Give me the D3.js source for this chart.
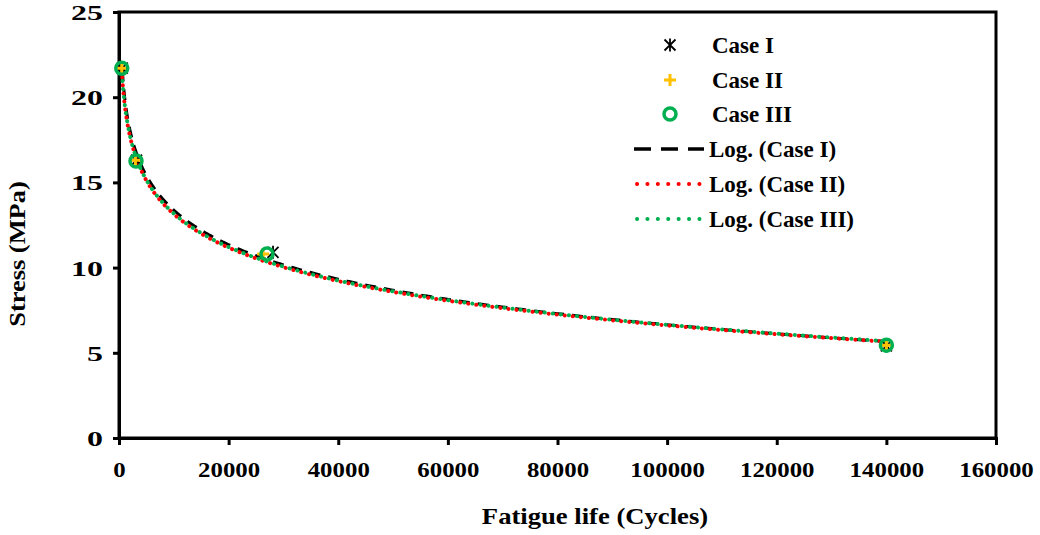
<!DOCTYPE html>
<html>
<head>
<meta charset="utf-8">
<script src="https://cdn.jsdelivr.net/npm/d3@7"></script>
<style>
  body { margin: 0; background: #fff; }
  svg text { font-family: "Liberation Serif", "Times New Roman", serif; font-weight: bold; }
</style>
</head>
<body>
<svg id="chart" width="1040" height="535"></svg>
<script>

// data
var caseI_x = [600, 3200, 28100, 140000];
var caseI_y = [21.7, 16.3, 10.9, 5.4];
var caseII_x = [500, 3000, 26300, 140000];
var caseII_y = [21.7, 16.3, 10.8, 5.45];
var caseIII_x = [500, 3100, 27000, 140000];
var caseIII_y = [21.7, 16.26, 10.8, 5.45];

var xTicks = [0, 20000, 40000, 60000, 80000, 100000, 120000, 140000, 160000];
var yTicks = [0, 5, 10, 15, 20, 25];

var margin = {top: 12, right: 44, bottom: 97, left: 119},
    width = 1040 - margin.left - margin.right,
    height = 535 - margin.top - margin.bottom;

var svg = d3.select("#chart");
var g = svg.append("g")
    .attr("transform", "translate(" + margin.left + "," + margin.top + ")");

var xScale = d3.scaleLinear().domain([0, 160000]).range([0, width]);
var yScale = d3.scaleLinear().domain([0, 25]).range([height, 0]);

// log trendline y = a ln(x) + b (least squares on each case)
function logFit(xs, ys) {
  var lx = xs.map(function(d) { return Math.log(d); });
  var mx = d3.mean(lx), my = d3.mean(ys);
  var sxy = 0, sxx = 0;
  lx.forEach(function(d, i) { sxy += (d - mx) * (ys[i] - my); sxx += (d - mx) * (d - mx); });
  var a = sxy / sxx, b = my - a * mx;
  var x0 = d3.min(xs), x1 = d3.max(xs);
  var pts = [];
  for (var i = 0; i <= 400; i++) {
    var x = x0 * Math.pow(x1 / x0, i / 400);
    pts.push([x, a * Math.log(x) + b]);
  }
  return pts;
}

var line = d3.line()
    .x(function(d) { return xScale(d[0]); })
    .y(function(d) { return yScale(d[1]); });

// box frame
g.append("rect")
    .attr("width", width).attr("height", height)
    .attr("fill", "none").attr("stroke", "#000").attr("stroke-width", 3);

// axes
var xAxis = g.append("g")
    .attr("transform", "translate(0," + height + ")")
    .call(d3.axisBottom(xScale).tickValues(xTicks).tickSize(7).tickFormat(d3.format("d")));
var yAxis = g.append("g")
    .call(d3.axisLeft(yScale).tickValues(yTicks).tickSize(6));

[xAxis, yAxis].forEach(function(ax) {
  ax.select(".domain").attr("stroke-width", 3);
  ax.selectAll(".tick line").attr("stroke-width", 3);
  ax.selectAll("text").attr("fill", "#000")
    .attr("font-family", "Liberation Serif").attr("font-weight", "bold");
});
// wide glyphs as in the picture
xAxis.selectAll(".tick text").attr("font-size", 22).attr("dy", null).attr("y", 0)
    .attr("transform", "translate(0,39) scale(1.13,1)");
yAxis.selectAll(".tick text").attr("font-size", 22).attr("x", 0).attr("dy", "0.34em")
    .attr("transform", "translate(-16,0) scale(1.45,1)");

// trendlines
g.append("path").attr("d", line(logFit(caseI_x, caseI_y)))
    .attr("fill", "none").attr("stroke", "#000").attr("stroke-width", 3)
    .attr("stroke-dasharray", "11,8");
g.append("path").attr("d", line(logFit(caseII_x, caseII_y)))
    .attr("fill", "none").attr("stroke", "#ff0000").attr("stroke-width", 4)
    .attr("stroke-linecap", "round").attr("stroke-dasharray", "0.1,8");
g.append("path").attr("d", line(logFit(caseIII_x, caseIII_y)))
    .attr("fill", "none").attr("stroke", "#00b050").attr("stroke-width", 4)
    .attr("stroke-linecap", "round").attr("stroke-dasharray", "0.1,8")
    .attr("stroke-dashoffset", 4);

// markers
function star(sel, x, y) {
  var s = 5.5;
  sel.append("path")
    .attr("d", "M" + (x - s) + "," + (y - s) + "L" + (x + s) + "," + (y + s) +
               "M" + (x - s) + "," + (y + s) + "L" + (x + s) + "," + (y - s) +
               "M" + x + "," + (y - s - 1) + "L" + x + "," + (y + s + 1))
    .attr("stroke", "#000").attr("stroke-width", 1.8).attr("fill", "none");
}
function plus(sel, x, y) {
  var s = 6;
  sel.append("path")
    .attr("d", "M" + (x - s) + "," + y + "L" + (x + s) + "," + y +
               "M" + x + "," + (y - s) + "L" + x + "," + (y + s))
    .attr("stroke", "#ffc000").attr("stroke-width", 3).attr("fill", "none");
}
function ring(sel, x, y) {
  sel.append("circle").attr("cx", x).attr("cy", y).attr("r", 6)
    .attr("fill", "none").attr("stroke", "#00b050").attr("stroke-width", 3.5);
}

caseI_x.forEach(function(d, i) { star(g, xScale(d), yScale(caseI_y[i])); });
caseII_x.forEach(function(d, i) { plus(g, xScale(d), yScale(caseII_y[i])); });
caseIII_x.forEach(function(d, i) { ring(g, xScale(d), yScale(caseIII_y[i])); });

// axis titles
svg.append("text")
    .attr("transform", "translate(595,524) scale(1.11,1)")
    .attr("text-anchor", "middle").attr("font-size", 24).text("Fatigue life (Cycles)");
svg.append("text")
    .attr("transform", "translate(25,254) rotate(-90) scale(1.1,1)")
    .attr("text-anchor", "middle").attr("font-size", 24).text("Stress (MPa)");

// legend
var legend = svg.append("g");
var legendNames = ["Case I", "Case II", "Case III", "Log. (Case I)", "Log. (Case II)", "Log. (Case III)"];
var legendY = [45, 80, 114, 149, 184, 219];
star(legend, 670, legendY[0]);
plus(legend, 670, legendY[1]);
ring(legend, 670, legendY[2]);
legend.append("line").attr("x1", 634).attr("x2", 704).attr("y1", legendY[3]).attr("y2", legendY[3])
    .attr("stroke", "#000").attr("stroke-width", 3.5).attr("stroke-dasharray", "17,10");
legend.append("line").attr("x1", 637).attr("x2", 704).attr("y1", legendY[4]).attr("y2", legendY[4])
    .attr("stroke", "#ff0000").attr("stroke-width", 4).attr("stroke-linecap", "round").attr("stroke-dasharray", "0.1,10.3");
legend.append("line").attr("x1", 637).attr("x2", 704).attr("y1", legendY[5]).attr("y2", legendY[5])
    .attr("stroke", "#00b050").attr("stroke-width", 4).attr("stroke-linecap", "round").attr("stroke-dasharray", "0.1,10.3");
legendNames.forEach(function(n, i) {
  legend.append("text").attr("x", i < 3 ? 712 : 709).attr("y", legendY[i] + 8)
    .attr("font-size", 23).text(n);
});
</script>
</body>
</html>
